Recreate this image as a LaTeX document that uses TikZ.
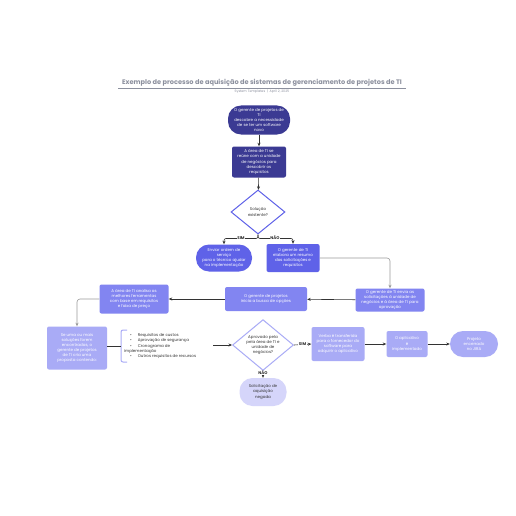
\documentclass[tikz,border=0pt]{standalone}
\usepackage{fontspec}
\setmainfont{Poppins}
\usetikzlibrary{shapes.geometric,arrows.meta}
\definecolor{navy}{HTML}{3B3A93}
\definecolor{mblue}{HTML}{5F62E8}
\definecolor{lblue}{HTML}{8285F1}
\definecolor{lav}{HTML}{A9ABF6}
\definecolor{pale}{HTML}{D5D5FA}
\definecolor{ttl}{HTML}{8C909E}
\definecolor{ink}{HTML}{333333}
\tikzset{
  base/.style={align=center,text=white,font=\fontsize{4}{5.1}\selectfont,inner sep=1pt},
  boxn/.style={base,rectangle,rounded corners=2pt},
  stad/.style={base,rectangle,rounded corners=13pt},
  dia/.style={base,diamond,draw,line width=1pt,fill=white,text=ink,aspect=1.2},
  conn/.style={draw=ink,line width=0.6pt,-{Stealth[length=3.5pt,width=3pt]}},
  gconn/.style={draw=gray!80,line width=0.6pt,rounded corners=3pt,-{Stealth[length=3.5pt,width=3pt]}},
  plain/.style={draw=ink,line width=0.6pt},
  lbl/.style={fill=white,inner sep=0.6pt,text=ink,font=\fontsize{4}{5}\selectfont\bfseries},
}
\begin{document}
\begin{tikzpicture}[x=1pt,y=-1pt]
\useasboundingbox[fill=white] (0,0) rectangle (516,516);
% title
\node (title) at (262,83) {\fontsize{6.6}{8}\selectfont\bfseries\color{ttl}Exemplo de processo de aquisição de sistemas de gerenciamento de projetos de TI};
\draw[ttl,line width=0.4pt] (118,88) -- (406,88);
\node (sub) at (262,92) {\fontsize{3.3}{4}\selectfont\color{ttl}System Templates\ \ |\ \ April 2, 2025};
% nodes
\node[stad,fill=navy,minimum width=62,minimum height=29] (n1) at (259,120) {O gerente de projetos de\\TI\\descobre a necessidade\\de se ter um software\\novo};
\node[boxn,fill=navy,minimum width=54,minimum height=31] (n2) at (259,162) {A área de TI se\\reúne com a unidade\\de negócios para\\descobrir os\\requisitos};
\node[dia,draw=mblue,minimum width=54,minimum height=44] (d1) at (258,212) {Solução\\existente?};
\node[stad,fill=mblue,minimum width=56,minimum height=27] (n3) at (224,258) {Enviar ordem de\\serviço\\para o técnico ajudar\\na implementação};
\node[boxn,fill=mblue,minimum width=53,minimum height=28] (n4) at (293,258) {O gerente de TI\\elabora um resumo\\das solicitações e\\requisitos};
\node[boxn,fill=lblue,minimum width=69,minimum height=23] (n5) at (390,300) {O gerente de TI envia as\\solicitações à unidade de\\negócios e à área de TI para\\aprovação};
\node[boxn,fill=lblue,minimum width=82,minimum height=24] (n6) at (266,299) {O gerente de projetos\\inicia a busca de opções};
\node[boxn,fill=lblue,minimum width=69,minimum height=29] (n7) at (134,299) {A área de TI analisa as\\melhores ferramentas\\com base em requisitos\\e faixa de preço};
\node[boxn,fill=lav,minimum width=60,minimum height=43] (n8) at (77,348) {Se uma ou mais\\soluções forem\\encontradas, o\\gerente de projetos\\de TI cria uma\\proposta contendo:};
\node[base,text=ink,align=left,anchor=west] (lst) at (123,346) {\hspace{6pt}•\hspace{6pt}Requisitos de custos\\\hspace{6pt}•\hspace{6pt}Aprovação de segurança\\\hspace{6pt}•\hspace{6pt}Cronograma de\\implementação\\\hspace{6pt}•\hspace{6pt}Outros requisitos de recursos};
\draw[lav,line width=1pt,rounded corners=2pt] (127,330) -- (121,330) -- (121,362) -- (127,362);
\coordinate (lstR) at (213,345);
\coordinate (brL) at (121,346);
\node[dia,draw=lav,minimum width=56,minimum height=40] (d2) at (263,345) {Aprovado pela\\pela área de TI e\\unidade de\\negócios?};
\node[boxn,fill=lav,minimum width=53,minimum height=34] (n9) at (338,344) {Verba é transferida\\para o fornecedor do\\software para\\adquirir o aplicativo};
\node[boxn,fill=lav,minimum width=41,minimum height=26] (n10) at (407,344) {O aplicativo\\é\\implementado};
\node[stad,fill=lav,minimum width=48,minimum height=26] (n11) at (474,344) {Projeto\\encerrado\\no JIRA};
\node[stad,fill=pale,text=ink,minimum width=47,minimum height=28] (n12) at (263,392) {Solicitação de\\aquisição\\negada};
% connectors
\draw[conn] (n1) -- (n2);
\draw[conn] (n2) -- (d1);
\draw[conn,rounded corners=2pt] (d1.south) -- ++(0,4) -| (n3.north);
\draw[conn,rounded corners=2pt] (d1.south) -- ++(0,4) -| (n4.north);
\node[lbl] (lsim1) at (241,238) {SIM};
\node[lbl] (lnao1) at (275,238) {NÃO};
\draw[gconn] (n4.east) -| (n5.north);
\draw[conn] (n5) -- (n6);
\draw[conn] (n6) -- (n7);
\draw[gconn] (n7.west) -| (n8.north);
\draw[plain] (n8.east |- brL) -- (brL);
\draw[conn] (lstR) -- (d2.west);
\draw[conn] (d2.east) -- (n9.west) node[lbl,midway] (lsim2) {SIM};
\draw[conn] (n9) -- (n10);
\draw[conn] (n10) -- (n11);
\draw[conn] (d2.south) -- (n12.north) node[lbl,pos=0.3] (lnao2) {NÃO};
\end{tikzpicture}
\end{document}
